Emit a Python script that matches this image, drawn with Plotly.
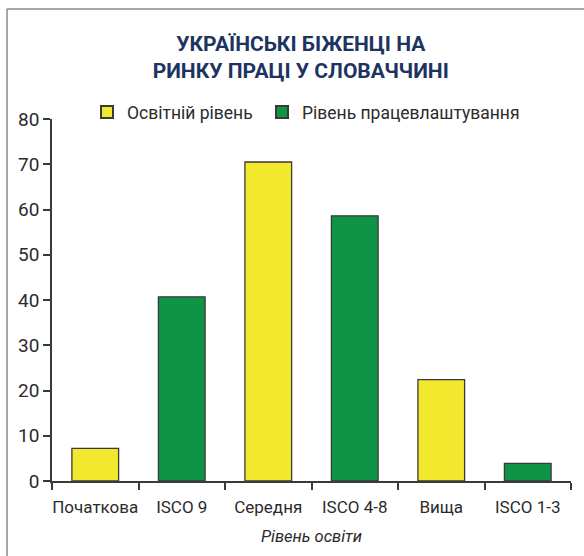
import plotly.graph_objects as go

categories = ["Початкова", "ISCO 9", "Середня", "ISCO 4-8", "Вища", "ISCO 1-3"]
edu_cats = ["Початкова", "Середня", "Вища"]
edu_vals = [7.2, 70.5, 22.4]
emp_cats = ["ISCO 9", "ISCO 4-8", "ISCO 1-3"]
emp_vals = [40.7, 58.6, 3.9]
y_ticks = [0, 10, 20, 30, 40, 50, 60, 70, 80]

FONT = "Roboto"
TXT = "#2b2b2b"

fig = go.Figure()
fig.add_trace(go.Bar(x=edu_cats, y=edu_vals, name="Освітній рівень", legend="legend",
                     showlegend=True,
                     marker=dict(color="#f2e92e", line=dict(color="#3a3a3a", width=1.3)),
                     width=0.54))
fig.add_trace(go.Bar(x=emp_cats, y=emp_vals, name="Рівень працевлаштування", legend="legend2",
                     showlegend=True,
                     marker=dict(color="#0f9347", line=dict(color="#3a3a3a", width=1.3)),
                     width=0.54))

L, R, T, B = 52, 13, 119, 75
W, H = 584, 556
pw, ph = W - L - R, H - T - B

def px(x):
    return (x - L) / pw

def py(y):
    return (H - B - y) / ph

legend_common = dict(orientation="h", xanchor="left", y=py(112), yanchor="middle",
                     font=dict(size=17.5, color=TXT), bgcolor="rgba(0,0,0,0)",
                     itemsizing="constant")

fig.update_layout(
    width=W, height=H,
    showlegend=True,
    margin=dict(l=L, r=R, t=T, b=B, autoexpand=False),
    paper_bgcolor="white", plot_bgcolor="white",
    barmode="overlay",
    font=dict(family=FONT, color=TXT, size=16),
    title=dict(text="<b>УКРАЇНСЬКІ БІЖЕНЦІ НА<br>РИНКУ ПРАЦІ У СЛОВАЧЧИНІ</b>",
               x=0.515, xanchor="center", y=1 - 51 / H, yanchor="middle",
               font=dict(family="Roboto", size=21, color="#1d3461")),
    legend=dict(x=px(87), **legend_common),
    legend2=dict(x=px(262), **legend_common),
    xaxis=dict(categoryorder="array", categoryarray=categories,
               showline=True, linecolor="#3a3a3a", linewidth=1.5, tickangle=0,
               ticks="outside", tickson="boundaries", ticklen=7, tickcolor="#3a3a3a",
               tickwidth=1.5, tickfont=dict(size=17, color=TXT), automargin=False,
               ticklabelstandoff=10,
               title=dict(text="<i>Рівень освіти</i>", font=dict(size=16.5, color=TXT), standoff=14),
               showgrid=False),
    yaxis=dict(range=[0, 80], tickvals=y_ticks, showline=True, linecolor="#3a3a3a",
               linewidth=1.5, ticks="outside", ticklen=7, tickcolor="#3a3a3a", tickwidth=1.5,
               tickfont=dict(size=19, color=TXT), showgrid=False, zeroline=False, automargin=False),
    shapes=[
        dict(type="line", xref="paper", yref="paper", x0=px(7), x1=px(590), y0=py(9), y1=py(9),
             line=dict(color="#8a8a8a", width=1.5)),
        dict(type="line", xref="paper", yref="paper", x0=px(7), x1=px(7), y0=py(9), y1=py(560),
             line=dict(color="#8a8a8a", width=1.5)),
    ],
)

fig.write_html("out.html", config={"displayModeBar": False},
               post_script="document.body.style.margin='0px';document.body.style.overflow='hidden';")
